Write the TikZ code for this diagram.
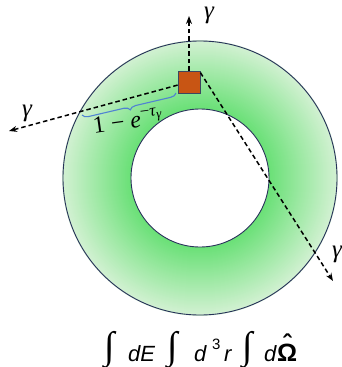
\documentclass[tikz,border=0pt]{standalone}
\usepackage{fontspec}
\newfontfamily\arialf{Liberation Sans}
\newfontfamily\serf{Liberation Serif}
\usetikzlibrary{arrows.meta,decorations.pathreplacing}
\definecolor{ringin}{RGB}{105,224,118}
\definecolor{ringout}{RGB}{210,241,210}
\definecolor{edgec}{RGB}{40,50,90}
\definecolor{sqfill}{RGB}{200,85,20}
\definecolor{sqedge}{RGB}{60,70,95}
\definecolor{bracec}{RGB}{80,130,210}
\newcommand{\intg}{\raisebox{3pt}{\serf\fontsize{38}{38}\selectfont ∫}}
\tikzset{
  ray/.style={dashed, dash pattern=on 4.5pt off 3pt, line width=1.5pt, -{Stealth[length=8pt,width=6pt]}},
  glabel/.style={inner sep=0pt, font=\serf\itshape\fontsize{25}{25}\selectfont},
  cell/.style={draw=sqedge, line width=0.8pt, fill=sqfill, minimum size=22pt, inner sep=0pt},
}
\begin{document}
\begin{tikzpicture}[x=1pt,y=-1pt]
\useasboundingbox (0,0) rectangle (342,367);
\foreach \i in {0,...,68} {
  \pgfmathsetmacro\pp{100-\i*100/68}
  \pgfmathsetmacro\rr{69+\i}
  \draw[line width=1.6pt, ringin!\pp!ringout] (200,178) circle[radius=\rr pt];
}
\draw[edgec, line width=0.9pt] (200,178) circle[radius=137pt];
\draw[edgec, line width=0.9pt, fill=white] (200,178) circle[radius=69pt];
\node[cell] (sq) at (189,82) {};
\coordinate (tU) at (189,16);
\coordinate (tL) at (9,131);
\coordinate (tR) at (333,281);
\draw[ray] (sq) -- (tL);
\draw[ray] (sq.north) -- (tU);
\draw[ray] ([yshift=-2pt]sq.north east) -- (tR);
\node[glabel] (gU) at (209,15) {γ};
\node[glabel] (gL) at (27,113) {γ};
\node[glabel] (gR) at (337,254) {γ};
\coordinate (bA) at (176,93);
\coordinate (bB) at (82,115);
\draw[bracec, line width=1.1pt, decorate, decoration={brace, amplitude=6pt}] (bA) -- (bB);
\node[rotate=8, inner sep=0pt, anchor=base west, font=\serf\fontsize{24}{24}\selectfont] (lab) at (94,134) {1\hspace{6pt}−\hspace{6pt}\textit{e}\raisebox{10pt}{\fontsize{17}{17}\selectfont −\textit{τ}\raisebox{-3pt}{\fontsize{13}{13}\selectfont\textit{γ}}}};
\node[font=\arialf\fontsize{22}{22}\selectfont, inner sep=0pt, anchor=base west] (form) at (104,361) {\makebox[24pt][l]{\intg}\makebox[39pt][l]{\textit{dE}}\makebox[27pt][l]{\intg}\makebox[18pt][l]{\textit{d}}\makebox[12pt][l]{\raisebox{12pt}{\fontsize{15}{15}\selectfont 3}}\makebox[18pt][l]{\textit{r}}\makebox[22pt][l]{\intg}\makebox[13pt][l]{\textit{d}}\ooalign{\fontsize{25}{25}\selectfont\bfseries Ω\cr\hfil\raisebox{9pt}{\fontsize{25}{25}\selectfont\bfseries ˆ}\hfil\cr}};
\end{tikzpicture}
\end{document}
